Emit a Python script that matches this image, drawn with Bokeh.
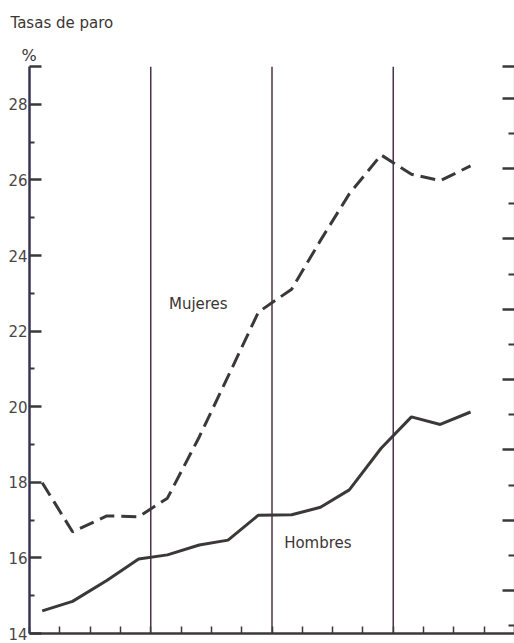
from bokeh.plotting import figure
from bokeh.models import Range1d, LinearAxis, FixedTicker, Title, CustomJSTickFormatter, Label
from bokeh.embed import file_html
from bokeh.resources import INLINE

# Quarter positions (x in quarters from start)
quarters = [0.42, 1.42, 2.55, 3.6, 4.55, 5.6, 6.55, 7.55, 8.65, 9.6, 10.55, 11.6, 12.6, 13.55, 14.55]
mujeres = [17.99, 16.69, 17.11, 17.09, 17.58, 19.2, 20.8, 22.5, 23.11, 24.4, 25.63, 26.66, 26.15, 25.98, 26.37]
hombres = [14.6, 14.85, 15.4, 15.97, 16.08, 16.34, 16.47, 17.13, 17.14, 17.34, 17.8, 18.9, 19.73, 19.53, 19.86]

year_bounds = [4, 8, 12]
x_ticks = list(range(0, 17))
y_major = [14, 16, 18, 20, 22, 24, 26, 28, 29]
y_minor = [15, 17, 19, 21, 23, 25, 27]
right_major = [2, 4, 6, 8, 10, 12, 14, 16, 16.9]
right_minor = [1, 3, 5, 7, 9, 11, 13, 15]

INK = "#3b3838"
AXIS = "#3a3450"
FONT = "DejaVu Sans"

p = figure(width=514, height=643, x_range=Range1d(0, 16), y_range=Range1d(14, 29),
           output_backend="svg", toolbar_location=None,
           min_border_left=29, min_border_right=0, min_border_top=66, min_border_bottom=10)
p.grid.visible = False
p.outline_line_color = None
p.background_fill_color = "white"
p.border_fill_color = "white"
p.extra_y_ranges = {"r": Range1d(0.784, 16.9)}

# left axis
ya = p.yaxis[0]
ya.ticker = FixedTicker(ticks=y_major, minor_ticks=y_minor)
ya.major_label_overrides = {29: ""}
ya.major_tick_in = 12
ya.major_tick_out = 0
ya.minor_tick_in = 5
ya.minor_tick_out = 0
ya.axis_line_width = 2.5
ya.axis_line_color = AXIS
ya.major_tick_line_color = INK
ya.major_tick_line_width = 2.5
ya.minor_tick_line_color = INK
ya.minor_tick_line_width = 2
ya.major_label_standoff = 2
ya.major_label_text_font = FONT
ya.major_label_text_font_size = "15px"
ya.major_label_text_color = "#4a4545"

# bottom axis
xa = p.xaxis[0]
xa.ticker = FixedTicker(ticks=x_ticks)
xa.formatter = CustomJSTickFormatter(code="return ''")
xa.major_tick_in = 7
xa.major_tick_out = 0
xa.major_label_standoff = 0
xa.major_label_text_font_size = "0px"
xa.axis_line_width = 2.5
xa.axis_line_color = INK
xa.major_tick_line_color = INK
xa.major_tick_line_width = 1.5

# right axis (no labels)
ra = LinearAxis(y_range_name="r", ticker=FixedTicker(ticks=right_major, minor_ticks=right_minor),
                formatter=CustomJSTickFormatter(code="return ''"))
ra.major_tick_in = 12
ra.major_tick_out = 0
ra.minor_tick_in = 6
ra.minor_tick_out = 0
ra.major_label_standoff = 0
ra.major_label_text_font_size = "0px"
ra.axis_line_width = 1.2
ra.axis_line_color = "#8a7a88"
ra.major_tick_line_color = INK
ra.major_tick_line_width = 2.5
ra.minor_tick_line_color = INK
ra.minor_tick_line_width = 2
p.add_layout(ra, "right")

p.segment(x0=year_bounds, y0=[14] * 3, x1=year_bounds, y1=[29] * 3,
          line_color="#4f3348", line_width=1.5)

p.line(quarters, mujeres, line_color=INK, line_width=3, line_dash="15 7")
p.line(quarters, hombres, line_color=INK, line_width=3)

p.add_layout(Label(x=4.6, y=22.71, text="Mujeres", text_baseline="middle",
                   text_font=FONT, text_font_size="15px", text_color="#3b3535"))
p.add_layout(Label(x=8.4, y=16.4, text="Hombres", text_baseline="middle",
                   text_font=FONT, text_font_size="15px", text_color="#3b3535"))

p.title = None
p.add_layout(Title(text="%", align="left", offset=-8, standoff=3,
                   text_font=FONT, text_font_size="16px", text_font_style="normal",
                   text_color="#3b3535"), "above")
p.add_layout(Title(text="Tasas de paro", align="left", offset=-19, standoff=21,
                   text_font=FONT, text_font_size="15px", text_font_style="normal",
                   text_color="#3b3535"), "above")

open("out.html", "w").write(file_html(p, INLINE))
